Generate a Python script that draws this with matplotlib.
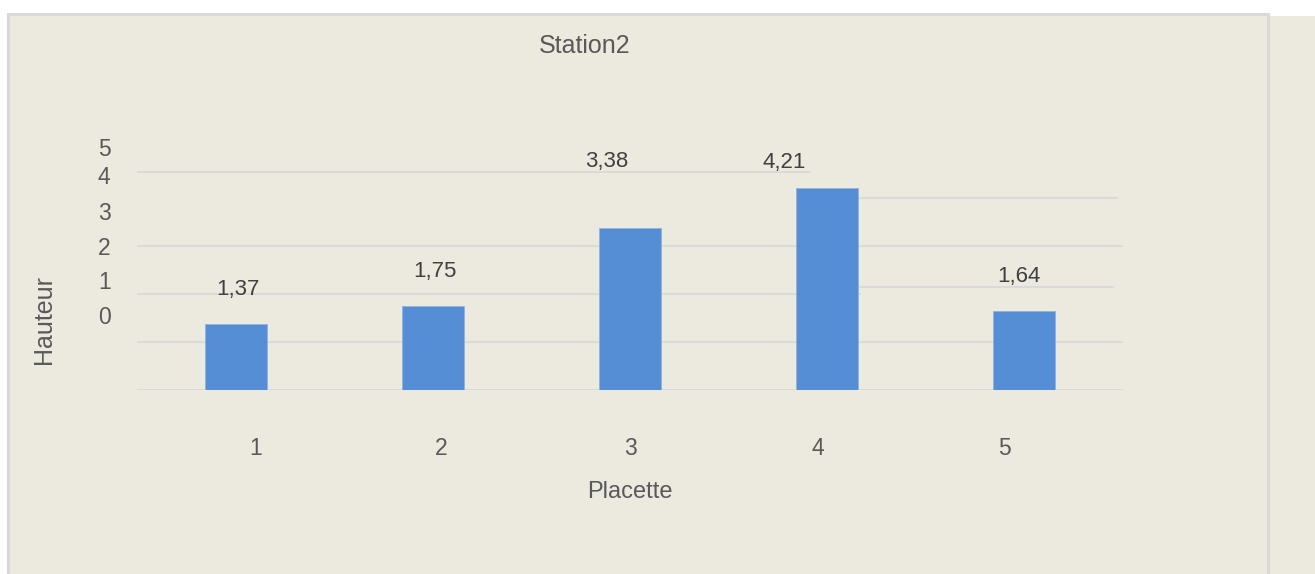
import matplotlib.pyplot as plt
from matplotlib.patches import Rectangle

plt.rcParams['font.family'] = ['Liberation Sans', 'DejaVu Sans']

# donnees
placettes = [1, 2, 3, 4, 5]
hauteur = [1.37, 1.75, 3.38, 4.21, 1.64]
etiquettes = ['1,37', '1,75', '3,38', '4,21', '1,64']
y_labels = ['0', '1', '2', '3', '4', '5']
x_labels = ['1', '2', '3', '4', '5']

W, H = 1315, 574
fond = '#ECE9DF'
grille = '#D9D9D9'
gris_txt = '#595959'

fig = plt.figure(figsize=(W / 100, H / 100), dpi=100, facecolor='white')

# cadre du graphique
fig.patches.append(Rectangle((8 / W, 0), 1 - 8 / W, 1 - 16 / H, transform=fig.transFigure,
                             facecolor=fond, edgecolor='none', zorder=-2))
fig.patches.append(Rectangle((8 / W, -0.01), (1268 - 8) / W, 1.01 - 14 / H, transform=fig.transFigure,
                             facecolor='none', edgecolor=grille, linewidth=2.2, zorder=-1))

ax = fig.add_axes([137 / W, (H - 390) / H, (1123 - 137) / W, (390 - 140.4) / H])
ax.set_zorder(1)
ax.set_facecolor('none')
ax.set_xlim(0.5, 5.5)
ax.set_ylim(0, 5.2)

# lignes de quadrillage (decalees comme dans le rendu d'origine)
for y, x0, x1 in [(0, 0, 1), (1, 0, 1), (2, 0, 0.733), (2.15, 0.733, 0.99),
                  (3, 0, 1), (4, 0.733, 0.994), (4.54, 0, 0.683)]:
    ax.axhline(y, x0, x1, color=grille, linewidth=1.3, zorder=1)

ax.bar(placettes, hauteur, width=0.314, color='#558ED5', edgecolor='#8DB3E2',
       linewidth=0.6, zorder=2)

# etiquettes de valeurs
decalages = [(2, 35), (2, 35), (-23, 66), (-43, 25), (-5, 35)]
for x, v, lab, (dx, dy) in zip(placettes, hauteur, etiquettes, decalages):
    ax.annotate(lab, (x, v), xytext=(dx, dy), textcoords='offset pixels',
                ha='center', va='center', fontsize=16, color='#404040')

ax.set_yticks([1.56, 2.29, 3.0, 3.73, 4.48, 5.06])
ax.set_yticklabels(y_labels)
ax.set_xticks([1.10, 2.04, 3.0, 3.95, 4.90])
ax.set_xticklabels(x_labels)
ax.tick_params(axis='both', length=0, labelsize=16.5, labelcolor=gris_txt)
ax.tick_params(axis='y', pad=19)
ax.tick_params(axis='x', pad=34)
for s in ax.spines.values():
    s.set_visible(False)

fig.text(585 / W, 1 - 46 / H, 'Station2', ha='center', va='center', fontsize=18, color=gris_txt)
fig.text(630 / W, 1 - 492 / H, 'Placette', ha='center', va='center', fontsize=17, color=gris_txt)
fig.text(44 / W, 1 - 319 / H, 'Hauteur', ha='center', va='center', rotation=90,
         fontsize=18, color=gris_txt)

fig.savefig('out.png', dpi=100, facecolor='white')
